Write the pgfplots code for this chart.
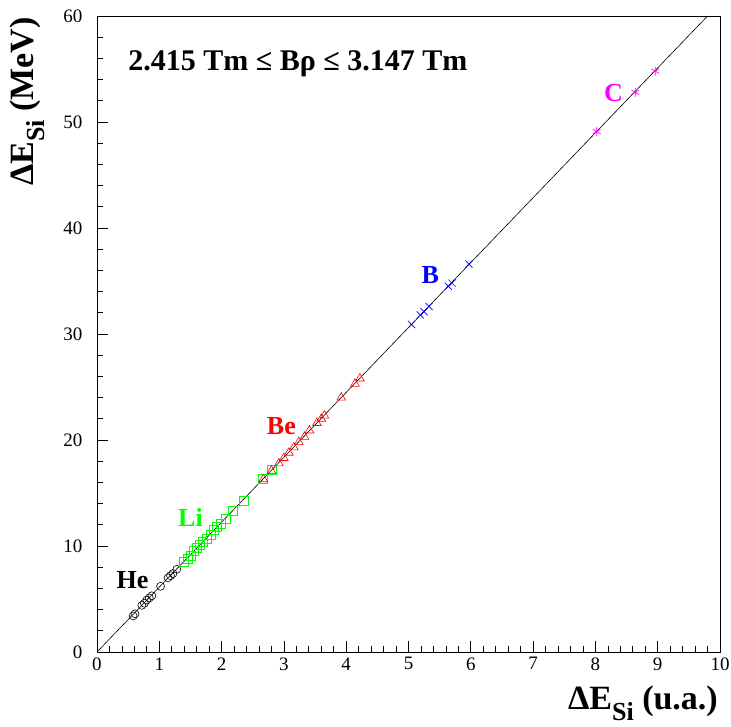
\documentclass[border=0pt]{standalone}
\usepackage{fontspec}
\setmainfont{Liberation Serif}
\usepackage{pgfplots}
\pgfplotsset{compat=1.18}
\definecolor{rgreen}{RGB}{0,255,0}
\definecolor{rred}{RGB}{255,0,0}
\definecolor{rblue}{RGB}{0,0,255}
\definecolor{rmag}{RGB}{255,0,255}
\begin{document}
\begin{tikzpicture}
\path[use as bounding box] (-97pt,-75pt) rectangle (634pt,652pt);
\begin{axis}[
  at={(0,0)}, anchor=south west,
  scale only axis, width=623pt, height=636pt,
  xmin=0, xmax=10, ymin=0, ymax=60,
  xtick={0,1,...,10}, ytick={0,10,...,60},
  minor x tick num=4, minor y tick num=4,
  tick align=inside, xtick pos=bottom, ytick pos=left,
  major tick length=11pt, minor tick length=5.5pt,
  tick style={black, line width=0.7pt},
  axis line style={line width=0.8pt},
  ticklabel style={font=\fontsize{19}{19}\selectfont},
  /pgf/number format/assume math mode=true,
  xticklabel style={yshift=-2pt},
  yticklabel style={xshift=-11pt},
]
\addplot[black, line width=0.6pt] coordinates {(0,0) (9.8,60)};
% He
\addplot[only marks, mark=o, mark size=4pt, black, mark options={line width=0.6pt}] coordinates {
(0.58,3.4) (0.61,3.6) (0.72,4.4) (0.76,4.6) (0.80,4.9) (0.84,5.1) (0.88,5.3)
(1.02,6.2) (1.14,7.0) (1.18,7.2) (1.22,7.4) (1.28,7.8)};
% Li
\addplot[only marks, mark=square, mark size=4.5pt, rgreen, mark options={line width=0.6pt}] coordinates {
(1.40,8.5) (1.45,8.8) (1.50,9.1) (1.55,9.5) (1.60,9.8) (1.65,10.1) (1.70,10.4)
(1.76,10.7) (1.82,11.1) (1.88,11.5) (1.93,11.8) (1.98,12.1) (2.06,12.6)
(2.18,13.3) (2.35,14.3) (2.66,16.3) (2.80,17.2)};
% Be
\addplot[only marks, mark=triangle, mark size=5pt, rred, mark options={line width=0.6pt}] coordinates {
(2.67,16.3) (2.80,17.1) (2.92,17.8) (3.00,18.3) (3.08,18.8) (3.16,19.3) (3.24,19.8)
(3.33,20.3) (3.41,20.9) (3.53,21.6) (3.60,22.0) (3.65,22.3) (3.92,24.0) (4.14,25.3) (4.22,25.8)};
% B
\addplot[only marks, mark=x, mark size=5pt, rblue, mark options={line width=0.7pt}] coordinates {
(5.05,30.9) (5.19,31.8) (5.25,32.1) (5.33,32.6) (5.64,34.5) (5.70,34.8) (5.97,36.6)};
% C
\addplot[only marks, mark=asterisk, mark size=4.5pt, rmag, mark options={line width=0.7pt}] coordinates {
(8.02,49.1) (8.64,52.8) (8.96,54.8)};
\node[anchor=base, font=\fontsize{26}{26}\selectfont\bfseries, text=black] at (axis cs:0.57,6.0) {He};
\node[anchor=base, font=\fontsize{26}{26}\selectfont\bfseries, text=rgreen] at (axis cs:1.50,11.8) {Li};
\node[anchor=base, font=\fontsize{26}{26}\selectfont\bfseries, text=rred] at (axis cs:2.96,20.5) {Be};
\node[anchor=base, font=\fontsize{26}{26}\selectfont\bfseries, text=rblue] at (axis cs:5.35,34.8) {B};
\node[anchor=base, font=\fontsize{26}{26}\selectfont\bfseries, text=rmag] at (axis cs:8.29,51.9) {C};
\node[anchor=base west, inner sep=0pt, font=\fontsize{30}{30}\selectfont\bfseries] at (axis cs:0.5,54.9) {2.415 Tm ≤ Bρ ≤ 3.147 Tm};
\end{axis}
\node[anchor=base east, inner sep=0pt, font=\fontsize{34}{34}\selectfont\bfseries] at (621pt,-58pt) {ΔE\raisebox{-11pt}{\fontsize{26}{26}\selectfont Si} (u.a.)};
\node[rotate=90, anchor=north east, inner sep=0pt, font=\fontsize{34}{34}\selectfont\bfseries] at (-87pt,635pt) {ΔE\raisebox{-11pt}{\fontsize{26}{26}\selectfont Si} (MeV)};
\end{tikzpicture}
\end{document}
